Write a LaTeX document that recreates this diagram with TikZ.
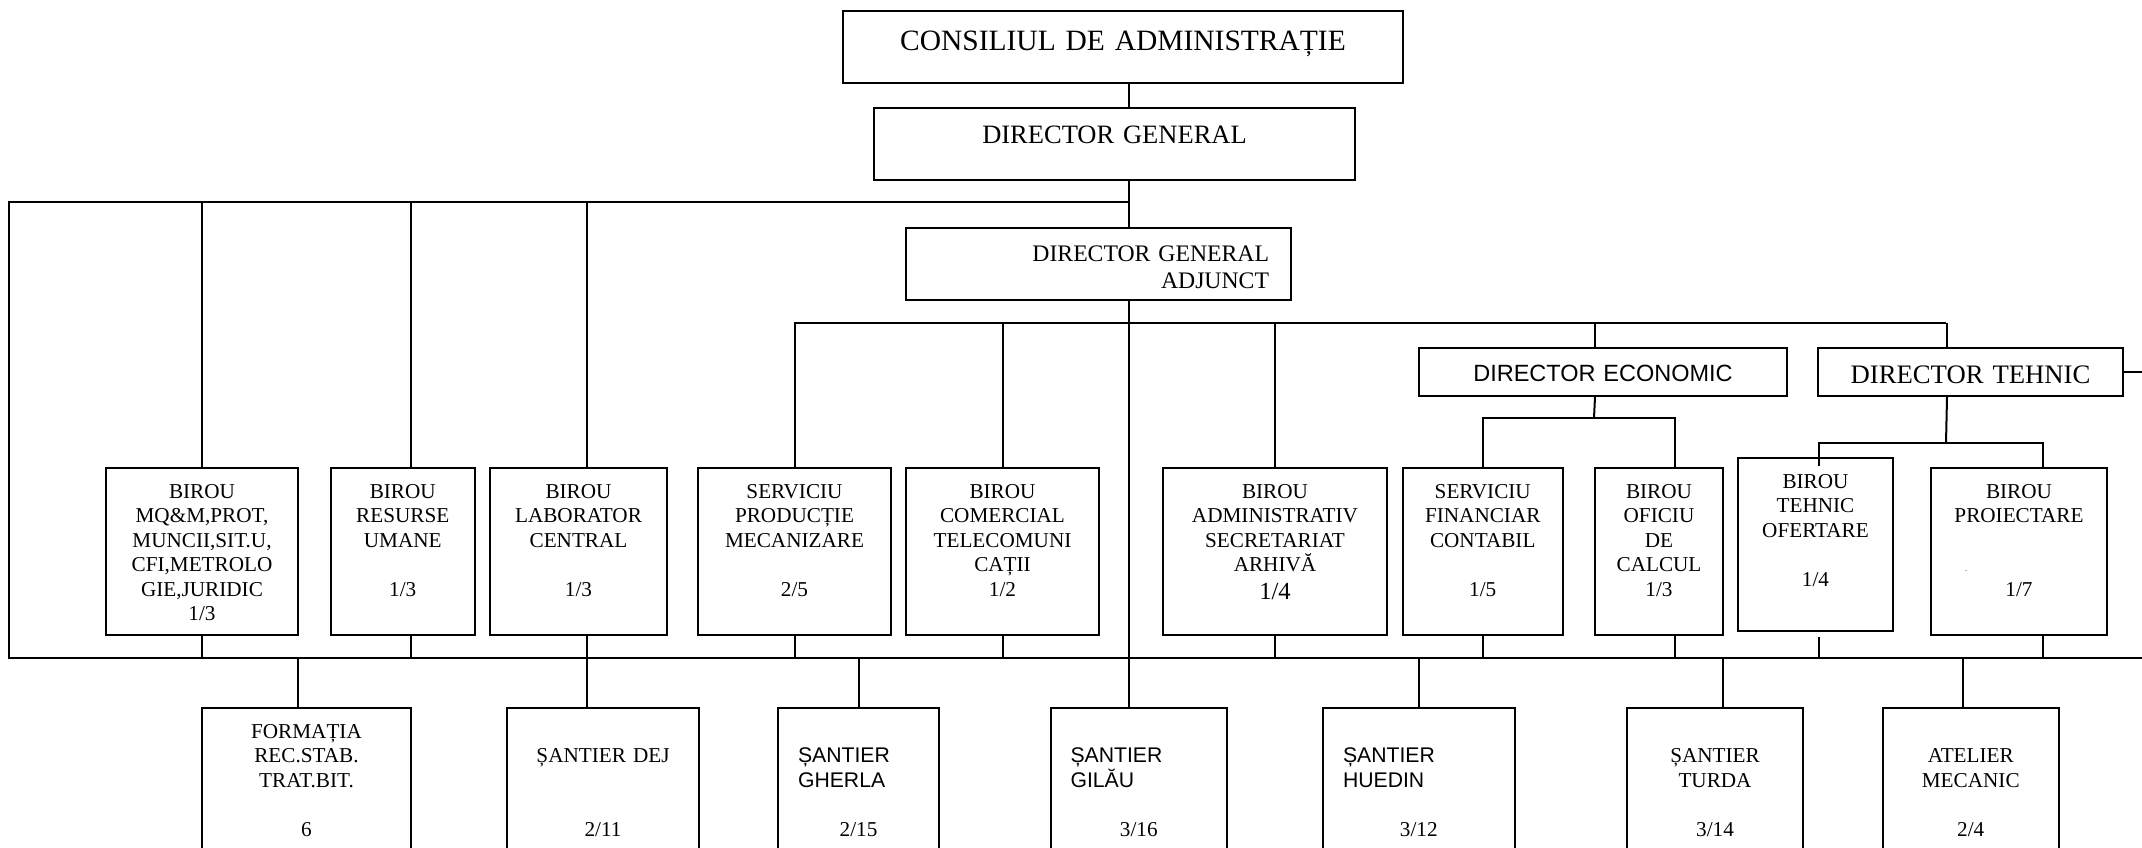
\documentclass[tikz,border=0pt]{standalone}
\usepackage{fontspec}
\setmainfont{Liberation Serif}
\setsansfont{Liberation Sans}
\newcommand{\deptfont}{\fontsize{10.6pt}{12.25pt}\selectfont}
\tikzstyle{unit}=[draw, line width=1pt, anchor=north west, align=center, inner xsep=0pt, inner ysep=0pt, font=\deptfont, text height=15pt, text depth=68.5pt]
\tikzstyle{site}=[unit, text depth=66.5pt]
\tikzstyle{site sans}=[site, align=left, inner xsep=10pt]

\begin{document}
\begin{tikzpicture}[x=0.5pt,y=-0.5pt,line width=1pt]
\useasboundingbox (0,0) rectangle (2142,847);
\clip (0,0) rectangle (2142,847);

\node[unit, text width=280pt, text height=19.5pt, text depth=16.5pt, font={\fontsize{14.75pt}{17pt}\selectfont}] (cons) at (842,10) {CONSILIUL DE ADMINISTRAȚIE};
\node[unit, text width=240.5pt, text height=17.5pt, text depth=18.5pt, font={\fontsize{13.25pt}{15pt}\selectfont}] (dg) at (873,107) {DIRECTOR GENERAL};
\node[unit, align=right, inner xsep=11pt, text width=170.5pt, text height=16.5pt, text depth=19.5pt, font={\fontsize{11.85pt}{13.5pt}\selectfont}] (dga) at (905,227) {DIRECTOR GENERAL\\ ADJUNCT};
\node[unit, text width=184pt, text height=16.5pt, text depth=7.5pt, font={\sffamily\fontsize{11.75pt}{14pt}\selectfont}] (de) at (1418,347) {DIRECTOR ECONOMIC};
\node[unit, text width=152.5pt, text height=17.5pt, text depth=6.5pt, font={\fontsize{13.35pt}{15pt}\selectfont}] (dt) at (1817,347) {DIRECTOR TEHNIC};

\node[unit, text width=96pt] (mqm) at (105,467) {BIROU\\ MQ\&M,PROT,\\ MUNCII,SIT.U,\\ CFI,METROLO\\ GIE,JURIDIC\\ 1/3};
\node[unit, text width=71.75pt] (rum) at (330,467) {BIROU\\ RESURSE\\ UMANE\\ ~\\ 1/3};
\node[unit, text width=88.5pt] (lab) at (489,467) {BIROU\\ LABORATOR\\ CENTRAL\\ ~\\ 1/3};
\node[unit, text width=96.5pt] (spm) at (697,467) {SERVICIU\\ PRODUCȚIE\\ MECANIZARE\\ ~\\ 2/5};
\node[unit, text width=96.5pt] (bct) at (905,467) {BIROU\\ COMERCIAL\\ TELECOMUNI\\ CAȚII\\ 1/2};
\node[unit, text width=112pt] (bas) at (1162,467) {BIROU\\ ADMINISTRATIV\\ SECRETARIAT\\ ARHIVĂ\\[1.75pt] {\fontsize{12.3pt}{14pt}\selectfont 1/4}};
\node[unit, text width=80.25pt] (sfc) at (1401.5,467) {SERVICIU\\ FINANCIAR\\ CONTABIL\\ ~\\ 1/5};
\node[unit, text width=64pt] (boc) at (1594,467) {BIROU\\ OFICIU\\ DE\\ CALCUL\\ 1/3};
\node[unit, text width=77.5pt, text depth=71.5pt] (bto) at (1737,457) {BIROU\\ TEHNIC\\ OFERTARE\\ ~\\ 1/4};
\node[unit, text width=88pt] (bpr) at (1930,467) {BIROU\\ PROIECTARE\\ ~\\ \makebox[0pt][r]{{\fontsize{4pt}{4pt}\selectfont .}\hspace{2.45em}}\\ 1/7};

\node[site, text width=104.5pt] (formatia) at (201,707) {FORMAȚIA\\ REC.STAB.\\ TRAT.BIT.\\ ~\\ 6};
\node[site, text width=96pt] (dej) at (506,707) {~\\ ȘANTIER DEJ\\ ~\\ ~\\ 2/11};
\node[site sans, text width=60.5pt] (gherla) at (777,707) {~\\ {\sffamily ȘANTIER}\\ {\sffamily GHERLA}\\ ~\\ \makebox[\linewidth]{2/15}};
\node[site sans, text width=68.25pt] (gilau) at (1049.5,707) {~\\ {\sffamily ȘANTIER}\\ {\sffamily GILĂU}\\ ~\\ \makebox[\linewidth]{3/16}};
\node[site sans, text width=75.75pt] (huedin) at (1322,707) {~\\ {\sffamily ȘANTIER}\\ {\sffamily HUEDIN}\\ ~\\ \makebox[\linewidth]{3/12}};
\node[site, text width=88pt] (turda) at (1626,707) {~\\ ȘANTIER\\ TURDA\\ ~\\ 3/14};
\node[site, text width=87.75pt] (atelier) at (1882,707) {~\\ ATELIER\\ MECANIC\\ ~\\ 2/4};

\coordinate (tr) at (1129,0);
\coordinate (busA) at (9,202);
\coordinate (busB) at (794,323);
\coordinate (busC) at (9,658);
\coordinate (busD) at (1594,418);
\coordinate (busE) at (1946,443);
\coordinate (edge) at (2142,0);

\draw (cons.south -| tr) -- (dg.north -| tr);
\draw (dg.south -| tr) -- (dga.north -| tr);
\draw (dga.south -| tr) -- (gilau.north -| tr);
\draw (busA -| tr) -- (busA) -- (busC) -- (busC -| edge);

\draw (mqm.north) -- (mqm.north |- busA);
\draw ([xshift=4pt]rum.north) -- ([xshift=4pt]rum.north |- busA);
\draw ([xshift=4.25pt]lab.north) -- ([xshift=4.25pt]lab.north |- busA);

\draw (busB) -- (busB -| busE);
\draw (spm.north) -- (spm.north |- busB);
\draw (bct.north) -- (bct.north |- busB);
\draw (bas.north) -- (bas.north |- busB);
\draw ([xshift=-4pt]de.north) -- ([xshift=-4pt]de.north |- busB);
\draw ([xshift=-11.75pt]dt.north) -- ([xshift=-11.75pt]dt.north |- busB);

\draw ([xshift=-4pt]de.south) -- (busD);
\draw (sfc.north) |- (busD) -| ([xshift=8pt]boc.north);
\draw ([xshift=-11.75pt]dt.south) -- (busE);
\draw ([xshift=1.75pt,yshift=-4.5pt]bto.north) |- (busE) -| ([xshift=12pt]bpr.north);
\draw (dt.east) -- (dt.east -| edge);

\draw (mqm.south) -- (mqm.south |- busC);
\draw ([xshift=4pt]rum.south) -- ([xshift=4pt]rum.south |- busC);
\draw ([xshift=4.25pt]lab.south) -- ([xshift=4.25pt]lab.south |- busC);
\draw (spm.south) -- (spm.south |- busC);
\draw (bct.south) -- (bct.south |- busC);
\draw (bas.south) -- (bas.south |- busC);
\draw (sfc.south) -- (sfc.south |- busC);
\draw ([xshift=8pt]boc.south) -- ([xshift=8pt]boc.south |- busC);
\draw ([xshift=1.75pt,yshift=-2.5pt]bto.south) -- ([xshift=1.75pt]bto.south |- busC);
\draw ([xshift=12pt]bpr.south) -- ([xshift=12pt]bpr.south |- busC);

\draw ([xshift=-4.25pt]formatia.north) -- ([xshift=-4.25pt]formatia.north |- busC);
\draw ([xshift=-8pt]dej.north) -- ([xshift=-8pt]dej.north |- busC);
\draw (gherla.north) -- (gherla.north |- busC);
\draw (huedin.north) -- (huedin.north |- busC);
\draw ([xshift=4pt]turda.north) -- ([xshift=4pt]turda.north |- busC);
\draw ([xshift=-4pt]atelier.north) -- ([xshift=-4pt]atelier.north |- busC);
\end{tikzpicture}
\end{document}
